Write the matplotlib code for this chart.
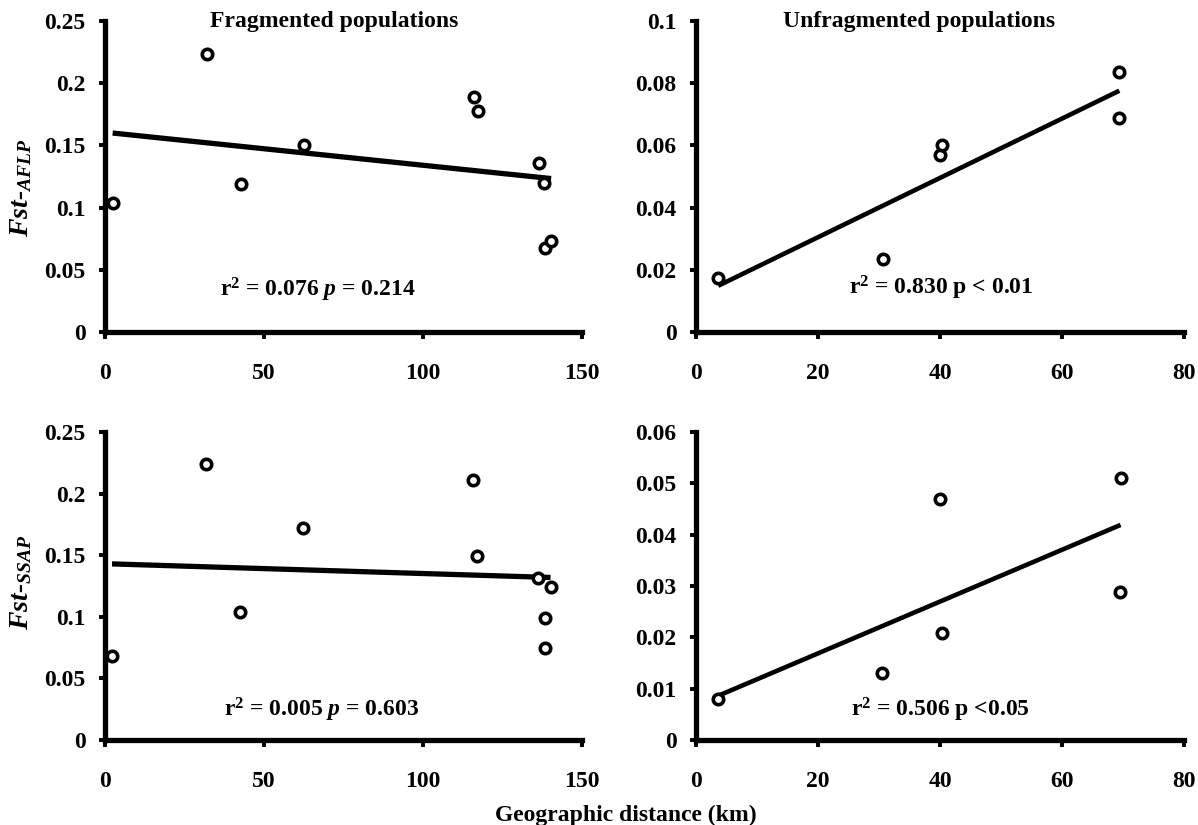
import numpy as np
import matplotlib
matplotlib.use("Agg")
import matplotlib.pyplot as plt
from matplotlib.ticker import FuncFormatter

plt.rcParams['font.family'] = ['Liberation Serif', 'DejaVu Serif']
plt.rcParams['font.weight'] = 'bold'
plt.rcParams['mathtext.fontset'] = 'custom'
plt.rcParams['mathtext.rm'] = 'Liberation Serif:bold'
plt.rcParams['mathtext.it'] = 'Liberation Serif:italic:bold'
plt.rcParams['mathtext.bf'] = 'Liberation Serif:bold'

# fragmented populations (distance km, Fst)
frag_dist_aflp = [2.4, 32.0, 42.8, 62.6, 116.0, 117.2, 136.6, 138.2, 138.4, 140.3]
frag_fst_aflp = [0.104, 0.2235, 0.1187, 0.150, 0.189, 0.178, 0.1358, 0.120, 0.0674, 0.0735]
frag_dist_ssap = [2.2, 31.7, 42.5, 62.3, 115.7, 116.9, 136.1, 140.1, 138.3, 138.3]
frag_fst_ssap = [0.0684, 0.2243, 0.1038, 0.1719, 0.2114, 0.1492, 0.1311, 0.124, 0.0989, 0.0743]

# unfragmented populations
unfrag_dist_aflp = [3.65, 30.7, 40.0, 40.3, 69.4, 69.4]
unfrag_fst_aflp = [0.0173, 0.0234, 0.0568, 0.060, 0.0689, 0.0837]
unfrag_dist_ssap = [3.65, 30.55, 40.0, 40.4, 69.5, 69.6]
unfrag_fst_ssap = [0.0079, 0.0131, 0.0469, 0.0208, 0.0289, 0.0511]

stats_text = [r'r$^2$ = 0.076 $p$ = 0.214', r'r$^2$ = 0.830 p < 0.01',
              r'r$^2$ = 0.005 $p$ = 0.603', r'r$^2$ = 0.506 p <0.05']

fig = plt.figure(figsize=(11.98, 8.25), dpi=100)

lx, lw = 105/1198, 477/1198
rx, rw = 696/1198, 488/1198
ty, th = (825-332)/825, 311/825
by, bh = (825-740)/825, 308/825

axes = [
    fig.add_axes([lx, ty, lw, th]),
    fig.add_axes([rx, ty, rw, th]),
    fig.add_axes([lx, by, lw, bh]),
    fig.add_axes([rx, by, rw, bh]),
]

panels = [
    (frag_dist_aflp, frag_fst_aflp, 150, 50, 0.25, 0.05, (67, 0.034), 3.8),
    (unfrag_dist_aflp, unfrag_fst_aflp, 80, 20, 0.1, 0.02, (40.2, 0.0141), 3.3),
    (frag_dist_ssap, frag_fst_ssap, 150, 50, 0.25, 0.05, (68, 0.0243), 3.8),
    (unfrag_dist_ssap, unfrag_fst_ssap, 80, 20, 0.06, 0.01, (40, 0.0058), 3.3),
]

for i, (ax, (xs, ys, xmax, xstep, ymax, ystep, txy, lwid)) in enumerate(zip(axes, panels)):
    xs = np.array(xs)
    ys = np.array(ys)
    ax.plot(xs, ys, 'o', ms=7.5, mfc='white', mec='black', mew=2.6, zorder=3)
    k, b = np.polyfit(xs, ys, 1)
    lxs = np.array([xs.min(), xs.max()])
    ax.plot(lxs, k*lxs + b, color='black', lw=lwid, solid_capstyle='butt', zorder=2)

    ax.set_xlim(0, xmax)
    ax.set_ylim(0, ymax)
    ax.set_xticks(np.arange(0, xmax + xstep/2, xstep))
    ax.set_yticks(np.arange(0, ymax + ystep/2, ystep))
    ax.yaxis.set_major_formatter(FuncFormatter(lambda v, p: '0' if abs(v) < 1e-9 else f'{v:g}'))
    ax.xaxis.set_major_formatter(FuncFormatter(lambda v, p: f'{v:g}'))
    for s in ['top', 'right']:
        ax.spines[s].set_visible(False)
    for s in ['left', 'bottom']:
        ax.spines[s].set_linewidth(3.8)
    ax.tick_params(axis='y', direction='out', length=4, width=2.8, pad=10, labelsize=17)
    ax.tick_params(axis='x', direction='out', length=5, width=2.8, pad=17, labelsize=17)
    for lab in ax.get_xticklabels() + ax.get_yticklabels():
        lab.set_fontweight('bold')
    ax.patch.set_alpha(0)
    ax.text(txy[0], txy[1], stats_text[i], ha='center', va='center', fontsize=17, fontweight='bold')

axes[0].text(0.48, 1.0, 'Fragmented populations', transform=axes[0].transAxes,
             ha='center', va='center', fontsize=17, fontweight='bold')
axes[1].text(0.457, 1.0, 'Unfragmented populations', transform=axes[1].transAxes,
             ha='center', va='center', fontsize=17, fontweight='bold')

fig.text(21/1198, 1 - 188/825, r'$F$st-$_{AFLP}$', rotation=90, ha='center', va='center',
         fontsize=20, fontweight='bold', fontstyle='italic')
fig.text(21/1198, 1 - 582/825, r'$F$st-$_{SSAP}$', rotation=90, ha='center', va='center',
         fontsize=20, fontweight='bold', fontstyle='italic')
fig.text(626/1198, 1 - 815/825, 'Geographic distance (km)', ha='center', va='center',
         fontsize=17, fontweight='bold')

fig.savefig('out.png', dpi=100)
